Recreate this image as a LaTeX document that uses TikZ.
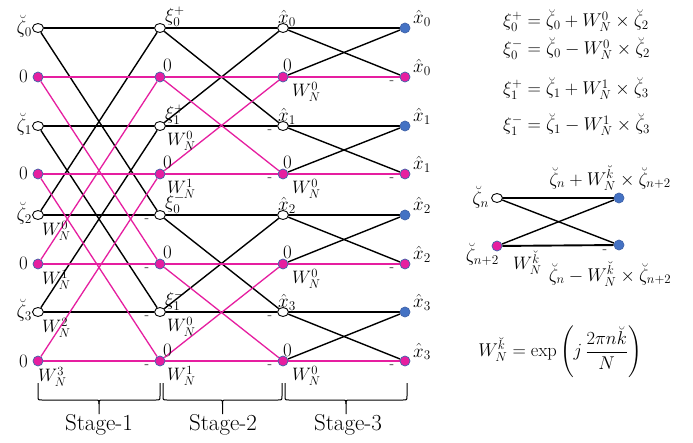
\RequirePackage{fix-cm}
\documentclass[tikz,border=0pt]{standalone}
\usepackage{amsmath}
\usetikzlibrary{shapes.geometric,calc,backgrounds}
\definecolor{mpink}{RGB}{230,30,160}
\definecolor{nodeedge}{RGB}{65,100,170}
\definecolor{mblue}{RGB}{68,114,196}
\newcommand\mybrace[2]{%
  \pgfmathsetmacro\xm{(#1+#2)/2}%
  \draw[bracestyle] (#1,383) -- (#1,396) .. controls (#1,400) .. (#1+4,400) -- (\xm-4,400) .. controls (\xm,400) .. (\xm,404) -- (\xm,414);
  \draw[bracestyle] (#2,383) -- (#2,396) .. controls (#2,400) .. (#2-4,400) -- (\xm+4,400) .. controls (\xm,400) .. (\xm,404);
}
\begin{document}
\begin{tikzpicture}[x=1pt,y=-1pt,
  wnode/.style={ellipse,draw=black,fill=white,line width=0.9pt,minimum width=11pt,minimum height=9pt,inner sep=0pt},
  pnode/.style={circle,draw=nodeedge,fill=mpink,line width=0.7pt,minimum size=10pt,inner sep=0pt},
  bnode/.style={circle,draw=nodeedge,fill=mblue,line width=0.7pt,minimum size=10pt,inner sep=0pt},
  bh/.style={draw=black,line width=1.9pt},
  bd/.style={draw=black,line width=1.4pt},
  ph/.style={draw=mpink,line width=1.5pt},
  pd/.style={draw=mpink,line width=1.3pt},
  lab/.style={font=\fontsize{19}{22}\selectfont,inner sep=0pt},
  wlab/.style={font=\fontsize{18}{21}\selectfont,inner sep=0pt},
  minus/.style={font=\fontsize{15}{17}\selectfont,inner sep=0pt},
  eq/.style={font=\fontsize{18.5}{22}\selectfont,inner sep=0pt},
  bracestyle/.style={draw=black,line width=1pt},
  stagelab/.style={font=\fontsize{23}{27}\selectfont,inner sep=0pt},
]
\useasboundingbox (0,0) rectangle (693,443);

% ---- main flow graph nodes ----
\foreach \c/\x in {a/38,b/160,c/283}{
  \foreach \r/\y in {0/28,2/126,4/215,6/312} \node[wnode] (\c\r) at (\x,\y) {};
  \foreach \r/\y in {1/77,3/174,5/264,7/361} \node[pnode] (\c\r) at (\x,\y) {};
}
\foreach \r/\y in {0/28,2/126,4/215,6/312} \node[bnode] (d\r) at (405,\y) {};
\foreach \r/\y in {1/77,3/174,5/264,7/361} \node[pnode] (d\r) at (405,\y) {};

% ---- small butterfly nodes ----
\node[wnode] (e0) at (497,198) {};
\node[pnode] (e1) at (497,246) {};
\node[bnode] (e2) at (619,198) {};
\node[bnode] (e3) at (619,245) {};

\begin{scope}[on background layer]
  \fill[white] (0,0) rectangle (693,443);
  % stage 1
  \foreach \i/\j in {0/4,2/6}{
    \draw[bh] (a\i) -- (b\i); \draw[bh] (a\j) -- (b\j);
    \draw[bd] (a\i) -- (b\j); \draw[bd] (a\j) -- (b\i);
  }
  \foreach \i/\j in {1/5,3/7}{
    \draw[ph] (a\i) -- (b\i); \draw[ph] (a\j) -- (b\j);
    \draw[pd] (a\i) -- (b\j); \draw[pd] (a\j) -- (b\i);
  }
  % stage 2
  \foreach \i/\j in {0/2,4/6}{
    \draw[bh] (b\i) -- (c\i); \draw[bh] (b\j) -- (c\j);
    \draw[bd] (b\i) -- (c\j); \draw[bd] (b\j) -- (c\i);
  }
  \foreach \i/\j in {1/3,5/7}{
    \draw[ph] (b\i) -- (c\i); \draw[ph] (b\j) -- (c\j);
    \draw[pd] (b\i) -- (c\j); \draw[pd] (b\j) -- (c\i);
  }
  % stage 3
  \foreach \i/\j in {0/1,2/3,4/5,6/7}{
    \draw[bh] (c\i) -- (d\i); \draw[ph] (c\j) -- (d\j);
    \draw[bd] (c\i) -- (d\j); \draw[bd] (c\j) -- (d\i);
  }
  % small butterfly
  \draw[bh] (e0) -- (e2); \draw[bh] (e1) -- (e3);
  \draw[bd] (e0) -- (e3); \draw[bd] (e1) -- (e2);
\end{scope}

% ---- labels column 0 ----
\foreach \r/\t in {0/0,2/1,4/2,6/3}
  \node[lab,anchor=base east] (la\r) at ($(a\r)+(-6,6)$) {$\breve{\zeta}_{\t}$};
\foreach \r in {1,3,5,7}
  \node[lab,anchor=base east] (la\r) at ($(a\r)+(-10,6)$) {0};
\foreach \r/\k in {4/0,5/1,6/2}
  \node[wlab,anchor=north west] (wa\r) at ($(a\r)+(4,6)$) {$W_N^{\k}$};
\node[wlab,anchor=north west] (wa7) at ($(a7)+(0,6)$) {$W_N^{3}$};

% ---- labels column 1 ----
\node[lab,anchor=base west] (lb0) at ($(b0)+(5,-6)$) {$\xi_0^{+}$};
\node[lab,anchor=base west] (lb2) at ($(b2)+(5,-6)$) {$\xi_1^{+}$};
\node[lab,anchor=base west] (lb4) at ($(b4)+(5,-6)$) {$\xi_0^{-}$};
\node[lab,anchor=base west] (lb6) at ($(b6)+(5,-6)$) {$\xi_1^{-}$};
\foreach \r in {1,3,5,7}
  \node[lab,anchor=base west] (lb\r) at ($(b\r)+(3,-5)$) {0};
\foreach \r/\k in {2/0,3/1,6/0,7/1}
  \node[wlab,anchor=north west] (wb\r) at ($(b\r)+(7,5)$) {$W_N^{\k}$};

% ---- labels column 2 ----
\foreach \r/\t in {0/0,2/1,4/2,6/3}
  \node[lab,anchor=base west] (lc\r) at ($(c\r)+(-5,-4)$) {$\hat{x}_{\t}$};
\foreach \r in {1,3,5,7}
  \node[lab,anchor=base west] (lc\r) at ($(c\r)+(0,-5)$) {0};
\foreach \r in {1,3,5,7}
  \node[wlab,anchor=north west] (wc\r) at ($(c\r)+(9,5)$) {$W_N^{0}$};

% ---- labels column 3 ----
\foreach \r/\t in {0/0,1/0,2/1,3/1,4/2,5/2,6/3,7/3}
  \node[lab,anchor=base west] (ld\r) at ($(d\r)+(8,-4)$) {$\hat{x}_{\t}$};

% ---- minus signs ----
\foreach \n in {b4,b5,b6,b7,c2,c3,c6,c7,d1,d3,d5,d7}
  \node[minus] (m\n) at ($(\n)+(-13,6)$) {-};

% ---- equations ----
\node[eq,anchor=base west] (eq1) at (503,27) {$\xi_0^{+}=\breve{\zeta}_0+W_N^0\times\breve{\zeta}_2$};
\node[eq,anchor=base west] (eq2) at (503,55) {$\xi_0^{-}=\breve{\zeta}_0-W_N^0\times\breve{\zeta}_2$};
\node[eq,anchor=base west] (eq3) at (503,95) {$\xi_1^{+}=\breve{\zeta}_1+W_N^1\times\breve{\zeta}_3$};
\node[eq,anchor=base west] (eq4) at (503,131) {$\xi_1^{-}=\breve{\zeta}_1-W_N^1\times\breve{\zeta}_3$};

% ---- small butterfly labels ----
\node[lab,anchor=base east] (le0) at (489,205) {$\breve{\zeta}_n$};
\node[lab,anchor=base east] (le1) at (499,262) {$\breve{\zeta}_{n+2}$};
\node[wlab,anchor=north west] (we1) at (513,251) {$W_N^{\breve{k}}$};
\node[minus] (me3) at ($(e3)+(-14,7)$) {-};
\node[eq] (top) at (610,178) {$\breve{\zeta}_n+W_N^{\breve{k}}\times\breve{\zeta}_{n+2}$};
\node[eq] (bot) at (610,274) {$\breve{\zeta}_n-W_N^{\breve{k}}\times\breve{\zeta}_{n+2}$};
\node[eq] (form) at (560,352) {$W_N^{\breve{k}}=\exp\left(j\,\dfrac{2\pi n\breve{k}}{N}\right)$};

% ---- stage braces ----
\mybrace{38}{160}
\mybrace{163}{282}
\mybrace{285}{407}
\node[stagelab] (s1) at (99,425) {Stage-1};
\node[stagelab] (s2) at (223,425) {Stage-2};
\node[stagelab] (s3) at (348,425) {Stage-3};
\end{tikzpicture}
\end{document}
